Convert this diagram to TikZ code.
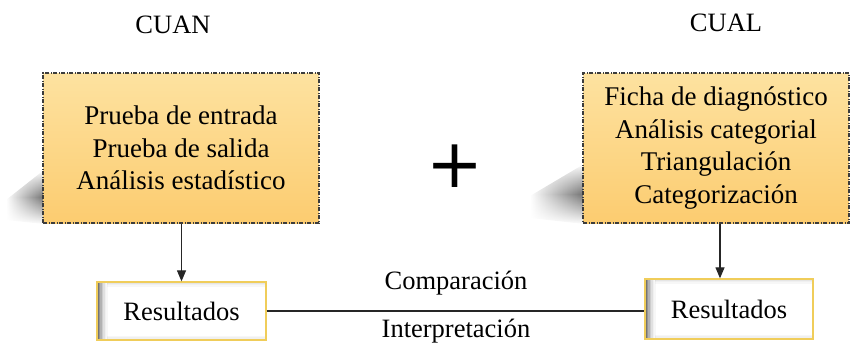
\documentclass[tikz,border=0pt]{standalone}
\usepackage{fontspec}
\setmainfont{Liberation Serif}
\newfontfamily\plusfont{DejaVu Sans}
\usetikzlibrary{arrows.meta,calc,fadings}
\definecolor{boxtop}{RGB}{253,226,160}
\definecolor{boxbot}{RGB}{252,204,112}
\definecolor{resborder}{RGB}{240,205,90}
\definecolor{dashgray}{RGB}{60,60,60}
\tikzfading[name=vfade, top color=transparent!100, bottom color=transparent!100, middle color=transparent!0]
\tikzset{
  bigbox/.style={draw=dashgray, line width=1.1pt,
    dash pattern=on 4pt off 1.5pt on 1pt off 1.5pt,
    top color=boxtop, bottom color=boxbot, align=center,
    font=\fontsize{27}{32.5}\selectfont, inner sep=0pt},
  resbox/.style={draw=resborder, line width=1.3pt, fill=white,
    font=\fontsize{26.5}{32}\selectfont, inner sep=0pt,
    path picture={
      \foreach \i/\o in {0/0.55,1.5/0.42,3/0.3,4.5/0.2,6/0.12,7.5/0.06,9/0.03}{
        \fill[black, opacity=\o]
          ([xshift=\i pt]path picture bounding box.south west) rectangle
          ([xshift=\i pt+1.5pt]path picture bounding box.north west);
      }
      \foreach \i/\o in {0/0.10,1.5/0.06,3/0.03}{
        \fill[black, opacity=\o]
          ([xshift=10pt,yshift=-\i pt]path picture bounding box.north west) rectangle
          ([yshift=-\i pt-1.5pt]path picture bounding box.north east);
        \fill[black, opacity=\o]
          ([xshift=10pt,yshift=\i pt]path picture bounding box.south west) rectangle
          ([yshift=\i pt+1.5pt]path picture bounding box.south east);
      }
    }},
  lbl/.style={font=\fontsize{26.5}{32}\selectfont, inner sep=0pt},
  conn/.style={line width=1.2pt, draw=black!85},
  arr/.style={conn, -{Triangle[length=11pt,width=9pt]}},
  shadowfill/.style={left color=white, right color=black!55, path fading=vfade}
}
\begin{document}
\begin{tikzpicture}[x=1pt,y=-1pt]
\useasboundingbox (0,0) rectangle (850,343);
% shadows
\shade[shadowfill] (6,200) -- (44,170) -- (44,224) -- (6,220) -- cycle;
\shade[shadowfill] (530,196) -- (584,164) -- (584,224) -- (530,218) -- cycle;
% titles
\node[lbl] (cuan) at (173,25) {CUAN};
\node[lbl] (cual) at (726,23) {CUAL};
% big boxes
\node[bigbox, minimum width=276, minimum height=150] (cuanbox) at (181,148)
  {Prueba de entrada\\Prueba de salida\\Análisis estadístico};
\node[bigbox, minimum width=266, minimum height=150] (cualbox) at (716,148)
  {Ficha de diagnóstico\\Análisis categorial\\Triangulación\\Categorización};
% plus
\node[inner sep=0pt, font=\plusfont\fontsize{68}{68}\selectfont] (plus) at (455,166) {+};
% result boxes
\node[resbox, minimum width=169, minimum height=58] (res1) at (181.5,311) {Resultados};
\node[resbox, minimum width=168, minimum height=60] (res2) at (729,309) {Resultados};
% connectors
\draw[arr] (cuanbox.south -| res1.north) -- (res1.north);
\draw[arr] ($(cualbox.south)+(4,0)$) coordinate (c2) -- (c2 |- res2.north);
\draw[conn] (res1.east) -- (res1.east -| res2.west) coordinate (c3);
\node[lbl] (comp) at (456,283) {Comparación};
\node[lbl] (interp) at (456,331) {Interpretación};
\end{tikzpicture}
\end{document}
